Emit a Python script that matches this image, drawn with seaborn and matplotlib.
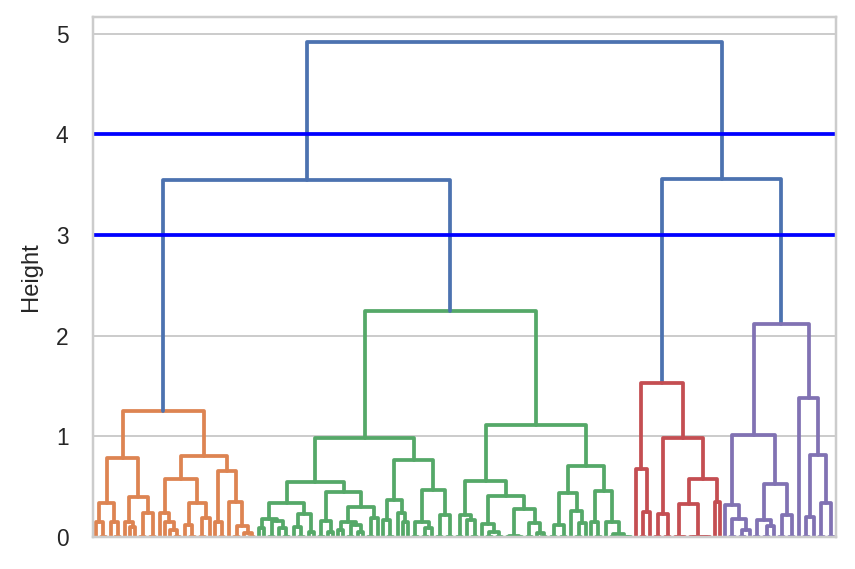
import pandas as pd
import matplotlib.pyplot as plt
import seaborn as sns

sns.set_theme(style="whitegrid")
plt.rcParams["font.family"] = ["Liberation Sans", "DejaVu Sans"]

L = None  # a single sample (leaf)

# merge heights, written as (height, left, right)
orange_tree = (1.25,
    (0.79,
        (0.34, (0.15, L, (0.0, L, L)), (0.15, L, (0.0, L, L))),
        (0.40, (0.15, L, (0.10, L, L)), (0.24, (0.0, L, L), (0.0, L, L)))),
    (0.81,
        (0.58,
            (0.24, L, (0.15, L, (0.07, L, (0.0, L, L)))),
            (0.34, (0.12, L, (0.0, L, L)), (0.19, (0.0, L, L), L))),
        (0.66,
            (0.15, L, (0.0, L, L)),
            (0.35, L, (0.11, (0.0, L, L), (0.04, L, (0.0, L, L)))))))

green_tree = (2.25,
    (0.98,
        (0.55,
            (0.34,
                (0.18, (0.09, L, L), (0.16, (0.0, L, L), (0.09, L, (0.0, L, L)))),
                (0.23, (0.10, L, (0.0, L, L)), (0.05, L, L))),
            (0.45,
                (0.16, (0.0, L, L), (0.05, L, L)),
                (0.30, (0.15, (0.07, L, L), (0.12, (0.0, L, L), (0.05, L, L))),
                       (0.19, (0.0, L, L), L)))),
        (0.77,
            (0.37, (0.17, L, (0.0, L, L)), (0.24, L, (0.15, L, L))),
            (0.47, (0.15, (0.0, L, L), (0.09, (0.0, L, L), L)),
                   (0.22, (0.0, L, L), (0.0, L, L))))),
    (1.11,
        (0.56,
            (0.22, (0.0, L, L), (0.17, L, (0.0, L, L))),
            (0.41, (0.13, L, (0.05, (0.0, L, L), (0.0, L, L))),
                   (0.28, (0.01, (0.0, L, L), (0.0, L, L)),
                          (0.14, (0.0, L, L), (0.04, L, (0.0, L, L)))))),
        (0.71,
            (0.44, (0.12, (0.0, L, L), (0.0, L, L)),
                   (0.26, L, (0.14, (0.0, L, L), L))),
            (0.46, (0.15, L, (0.0, L, L)),
                   (0.15, L, (0.03, (0.0, L, L), (0.0, L, (0.0, L, L))))))))

red_tree = (1.53,
    (0.68, L, (0.25, (0.0, L, L), L)),
    (0.98,
        (0.23, (0.0, L, L), (0.0, L, L)),
        (0.58,
            (0.33, (0.0, L, (0.0, L, L)), (0.0, (0.0, L, L), (0.0, L, (0.0, L, L)))),
            (0.35, L, L))))

purple_tree = (2.12,
    (1.01,
        (0.32, L, (0.18, (0.0, L, L), (0.07, (0.0, L, L), L))),
        (0.53, (0.17, (0.0, L, L), (0.11, (0.0, L, L), L)),
               (0.22, (0.0, L, L), (0.0, L, L)))),
    (1.38, L,
        (0.82, (0.20, (0.0, L, L), L), (0.34, (0.0, L, L), (0.0, L, L)))))

left_top_height = 3.55
right_top_height = 3.56
root_height = 4.92
cut_heights = [3, 4]

palette = {"top": "#4C72B0", "orange": "#DD8452", "green": "#55A868",
           "red": "#C44E52", "purple": "#8172B3"}

tree = (root_height,
        (left_top_height, ("orange", orange_tree), ("green", green_tree)),
        (right_top_height, ("red", red_tree), ("purple", purple_tree)))

rows = []


def walk(node, color, start):
    # returns x position, height and next free leaf slot
    if node is None:
        return 5 + 10 * start, 0.0, start + 1
    if isinstance(node[0], str):
        return walk(node[1], node[0], start)
    h, left, right = node
    xl, hl, nxt = walk(left, color, start)
    xr, hr, nxt = walk(right, color, nxt)
    link = len(rows)
    for x, y in [(xl, hl), (xl, h), (xr, h), (xr, hr)]:
        rows.append((link, x, y, color))
    return (xl + xr) / 2, h, nxt


_, _, n_leaves = walk(tree, "top", 0)
df = pd.DataFrame(rows, columns=["link", "x", "y", "cluster"])

fig, ax = plt.subplots(figsize=(6, 569 / 142.5), dpi=142.5)
fig.subplots_adjust(left=0.109, right=0.978, bottom=0.056, top=0.970)

sns.lineplot(data=df, x="x", y="y", units="link", hue="cluster", palette=palette,
             estimator=None, sort=False, legend=False, linewidth=1.9, ax=ax)
for h in cut_heights:
    ax.axhline(h, color="blue", linewidth=1.9)

ax.set_xlim(0, 10 * n_leaves)
ax.set_ylim(0, root_height * 1.05)
ax.set_xticks([])
ax.set_xlabel("")
ax.set_ylabel("Height", fontsize=12, labelpad=7)
ax.tick_params(axis="y", labelsize=11.5, pad=6.5)

plt.savefig("out.png", dpi=142.5)
